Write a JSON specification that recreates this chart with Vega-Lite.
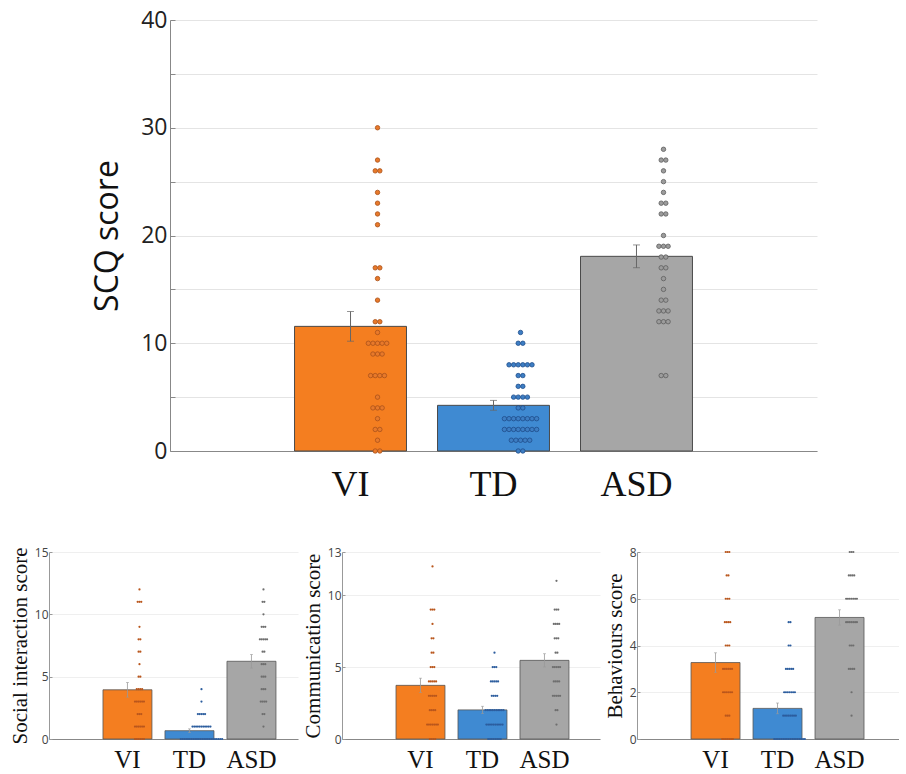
{
  "$schema": "https://vega.github.io/schema/vega-lite/v6.json",
  "background": "white",
  "padding": {"left": 9, "top": 9, "right": 0, "bottom": 0},
  "config": {"view": {"stroke": null}, "font": "Open Sans"},
  "datasets": {
    "scq": [
      {"g":"VI","v":30},{"g":"VI","v":27},{"g":"VI","v":26},{"g":"VI","v":26},{"g":"VI","v":24},{"g":"VI","v":23},{"g":"VI","v":22},{"g":"VI","v":21},{"g":"VI","v":17},{"g":"VI","v":17},{"g":"VI","v":16},{"g":"VI","v":14},{"g":"VI","v":12},{"g":"VI","v":12},{"g":"VI","v":11},{"g":"VI","v":10},{"g":"VI","v":10},{"g":"VI","v":10},{"g":"VI","v":10},{"g":"VI","v":10},{"g":"VI","v":9},{"g":"VI","v":9},{"g":"VI","v":9},{"g":"VI","v":7},{"g":"VI","v":7},{"g":"VI","v":7},{"g":"VI","v":7},{"g":"VI","v":5},{"g":"VI","v":4},{"g":"VI","v":4},{"g":"VI","v":4},{"g":"VI","v":3},{"g":"VI","v":2},{"g":"VI","v":2},{"g":"VI","v":1},{"g":"VI","v":0},{"g":"VI","v":0},
      {"g":"TD","v":11},{"g":"TD","v":10},{"g":"TD","v":10},{"g":"TD","v":8},{"g":"TD","v":8},{"g":"TD","v":8},{"g":"TD","v":8},{"g":"TD","v":8},{"g":"TD","v":8},{"g":"TD","v":7},{"g":"TD","v":7},{"g":"TD","v":6},{"g":"TD","v":6},{"g":"TD","v":5},{"g":"TD","v":5},{"g":"TD","v":5},{"g":"TD","v":5},{"g":"TD","v":4},{"g":"TD","v":4},{"g":"TD","v":3},{"g":"TD","v":3},{"g":"TD","v":3},{"g":"TD","v":3},{"g":"TD","v":3},{"g":"TD","v":3},{"g":"TD","v":3},{"g":"TD","v":3},{"g":"TD","v":2},{"g":"TD","v":2},{"g":"TD","v":2},{"g":"TD","v":2},{"g":"TD","v":2},{"g":"TD","v":2},{"g":"TD","v":2},{"g":"TD","v":2},{"g":"TD","v":1},{"g":"TD","v":1},{"g":"TD","v":1},{"g":"TD","v":1},{"g":"TD","v":1},{"g":"TD","v":0},{"g":"TD","v":0},
      {"g":"ASD","v":28},{"g":"ASD","v":27},{"g":"ASD","v":27},{"g":"ASD","v":26},{"g":"ASD","v":25},{"g":"ASD","v":24},{"g":"ASD","v":23},{"g":"ASD","v":23},{"g":"ASD","v":22},{"g":"ASD","v":22},{"g":"ASD","v":20},{"g":"ASD","v":19},{"g":"ASD","v":19},{"g":"ASD","v":19},{"g":"ASD","v":18},{"g":"ASD","v":18},{"g":"ASD","v":17},{"g":"ASD","v":17},{"g":"ASD","v":16},{"g":"ASD","v":15},{"g":"ASD","v":14},{"g":"ASD","v":14},{"g":"ASD","v":13},{"g":"ASD","v":13},{"g":"ASD","v":13},{"g":"ASD","v":12},{"g":"ASD","v":12},{"g":"ASD","v":12},{"g":"ASD","v":7},{"g":"ASD","v":7}
    ],
    "soc": [
      {"g":"VI","v":12},{"g":"VI","v":11},{"g":"VI","v":11},{"g":"VI","v":11},{"g":"VI","v":9},{"g":"VI","v":8},{"g":"VI","v":8},{"g":"VI","v":7},{"g":"VI","v":7},{"g":"VI","v":6},{"g":"VI","v":5},{"g":"VI","v":5},{"g":"VI","v":4},{"g":"VI","v":4},{"g":"VI","v":4},{"g":"VI","v":4},{"g":"VI","v":3},{"g":"VI","v":3},{"g":"VI","v":3},{"g":"VI","v":3},{"g":"VI","v":3},{"g":"VI","v":3},{"g":"VI","v":2},{"g":"VI","v":2},{"g":"VI","v":2},{"g":"VI","v":1},{"g":"VI","v":1},{"g":"VI","v":1},{"g":"VI","v":1},{"g":"VI","v":1},{"g":"VI","v":1},{"g":"VI","v":0},{"g":"VI","v":0},{"g":"VI","v":0},{"g":"VI","v":0},{"g":"VI","v":0},{"g":"VI","v":0},
      {"g":"TD","v":4},{"g":"TD","v":3},{"g":"TD","v":2},{"g":"TD","v":2},{"g":"TD","v":2},{"g":"TD","v":2},{"g":"TD","v":2},{"g":"TD","v":1},{"g":"TD","v":1},{"g":"TD","v":1},{"g":"TD","v":1},{"g":"TD","v":1},{"g":"TD","v":1},{"g":"TD","v":1},{"g":"TD","v":1},{"g":"TD","v":1},{"g":"TD","v":1},{"g":"TD","v":1},{"g":"TD","v":0},{"g":"TD","v":0},{"g":"TD","v":0},{"g":"TD","v":0},{"g":"TD","v":0},{"g":"TD","v":0},{"g":"TD","v":0},{"g":"TD","v":0},{"g":"TD","v":0},{"g":"TD","v":0},{"g":"TD","v":0},{"g":"TD","v":0},{"g":"TD","v":0},{"g":"TD","v":0},{"g":"TD","v":0},{"g":"TD","v":0},{"g":"TD","v":0},{"g":"TD","v":0},{"g":"TD","v":0},{"g":"TD","v":0},{"g":"TD","v":0},{"g":"TD","v":0},{"g":"TD","v":0},{"g":"TD","v":0},
      {"g":"ASD","v":12},{"g":"ASD","v":11},{"g":"ASD","v":11},{"g":"ASD","v":10},{"g":"ASD","v":9},{"g":"ASD","v":9},{"g":"ASD","v":9},{"g":"ASD","v":8},{"g":"ASD","v":8},{"g":"ASD","v":8},{"g":"ASD","v":8},{"g":"ASD","v":8},{"g":"ASD","v":7},{"g":"ASD","v":7},{"g":"ASD","v":6},{"g":"ASD","v":6},{"g":"ASD","v":6},{"g":"ASD","v":5},{"g":"ASD","v":5},{"g":"ASD","v":5},{"g":"ASD","v":4},{"g":"ASD","v":4},{"g":"ASD","v":4},{"g":"ASD","v":3},{"g":"ASD","v":3},{"g":"ASD","v":3},{"g":"ASD","v":3},{"g":"ASD","v":2},{"g":"ASD","v":2},{"g":"ASD","v":1}
    ],
    "com": [
      {"g":"VI","v":12},{"g":"VI","v":9},{"g":"VI","v":9},{"g":"VI","v":9},{"g":"VI","v":8},{"g":"VI","v":7},{"g":"VI","v":7},{"g":"VI","v":6},{"g":"VI","v":6},{"g":"VI","v":5},{"g":"VI","v":5},{"g":"VI","v":5},{"g":"VI","v":4},{"g":"VI","v":4},{"g":"VI","v":4},{"g":"VI","v":4},{"g":"VI","v":4},{"g":"VI","v":3},{"g":"VI","v":3},{"g":"VI","v":3},{"g":"VI","v":3},{"g":"VI","v":3},{"g":"VI","v":2},{"g":"VI","v":2},{"g":"VI","v":2},{"g":"VI","v":2},{"g":"VI","v":1},{"g":"VI","v":1},{"g":"VI","v":1},{"g":"VI","v":1},{"g":"VI","v":1},{"g":"VI","v":1},{"g":"VI","v":1},{"g":"VI","v":0},{"g":"VI","v":0},{"g":"VI","v":0},{"g":"VI","v":0},
      {"g":"TD","v":6},{"g":"TD","v":5},{"g":"TD","v":5},{"g":"TD","v":5},{"g":"TD","v":4},{"g":"TD","v":4},{"g":"TD","v":4},{"g":"TD","v":4},{"g":"TD","v":4},{"g":"TD","v":3},{"g":"TD","v":3},{"g":"TD","v":3},{"g":"TD","v":3},{"g":"TD","v":2},{"g":"TD","v":2},{"g":"TD","v":2},{"g":"TD","v":2},{"g":"TD","v":2},{"g":"TD","v":2},{"g":"TD","v":2},{"g":"TD","v":2},{"g":"TD","v":2},{"g":"TD","v":2},{"g":"TD","v":2},{"g":"TD","v":1},{"g":"TD","v":1},{"g":"TD","v":1},{"g":"TD","v":1},{"g":"TD","v":1},{"g":"TD","v":1},{"g":"TD","v":1},{"g":"TD","v":1},{"g":"TD","v":1},{"g":"TD","v":1},{"g":"TD","v":0},{"g":"TD","v":0},{"g":"TD","v":0},{"g":"TD","v":0},{"g":"TD","v":0},{"g":"TD","v":0},{"g":"TD","v":0},{"g":"TD","v":0},
      {"g":"ASD","v":11},{"g":"ASD","v":9},{"g":"ASD","v":9},{"g":"ASD","v":9},{"g":"ASD","v":8},{"g":"ASD","v":8},{"g":"ASD","v":8},{"g":"ASD","v":8},{"g":"ASD","v":7},{"g":"ASD","v":7},{"g":"ASD","v":7},{"g":"ASD","v":6},{"g":"ASD","v":6},{"g":"ASD","v":5},{"g":"ASD","v":5},{"g":"ASD","v":5},{"g":"ASD","v":5},{"g":"ASD","v":5},{"g":"ASD","v":4},{"g":"ASD","v":4},{"g":"ASD","v":4},{"g":"ASD","v":4},{"g":"ASD","v":3},{"g":"ASD","v":3},{"g":"ASD","v":3},{"g":"ASD","v":3},{"g":"ASD","v":3},{"g":"ASD","v":2},{"g":"ASD","v":2},{"g":"ASD","v":1}
    ],
    "beh": [
      {"g":"VI","v":8},{"g":"VI","v":8},{"g":"VI","v":8},{"g":"VI","v":7},{"g":"VI","v":7},{"g":"VI","v":6},{"g":"VI","v":6},{"g":"VI","v":6},{"g":"VI","v":5},{"g":"VI","v":5},{"g":"VI","v":5},{"g":"VI","v":5},{"g":"VI","v":4},{"g":"VI","v":4},{"g":"VI","v":4},{"g":"VI","v":3},{"g":"VI","v":3},{"g":"VI","v":3},{"g":"VI","v":3},{"g":"VI","v":3},{"g":"VI","v":3},{"g":"VI","v":2},{"g":"VI","v":2},{"g":"VI","v":2},{"g":"VI","v":2},{"g":"VI","v":2},{"g":"VI","v":2},{"g":"VI","v":1},{"g":"VI","v":1},{"g":"VI","v":1},{"g":"VI","v":0},{"g":"VI","v":0},{"g":"VI","v":0},{"g":"VI","v":0},{"g":"VI","v":0},{"g":"VI","v":0},{"g":"VI","v":0},
      {"g":"TD","v":5},{"g":"TD","v":5},{"g":"TD","v":4},{"g":"TD","v":4},{"g":"TD","v":3},{"g":"TD","v":3},{"g":"TD","v":3},{"g":"TD","v":3},{"g":"TD","v":3},{"g":"TD","v":2},{"g":"TD","v":2},{"g":"TD","v":2},{"g":"TD","v":2},{"g":"TD","v":2},{"g":"TD","v":2},{"g":"TD","v":2},{"g":"TD","v":1},{"g":"TD","v":1},{"g":"TD","v":1},{"g":"TD","v":1},{"g":"TD","v":1},{"g":"TD","v":1},{"g":"TD","v":1},{"g":"TD","v":1},{"g":"TD","v":0},{"g":"TD","v":0},{"g":"TD","v":0},{"g":"TD","v":0},{"g":"TD","v":0},{"g":"TD","v":0},{"g":"TD","v":0},{"g":"TD","v":0},{"g":"TD","v":0},{"g":"TD","v":0},{"g":"TD","v":0},{"g":"TD","v":0},{"g":"TD","v":0},{"g":"TD","v":0},{"g":"TD","v":0},{"g":"TD","v":0},{"g":"TD","v":0},{"g":"TD","v":0},
      {"g":"ASD","v":8},{"g":"ASD","v":8},{"g":"ASD","v":8},{"g":"ASD","v":7},{"g":"ASD","v":7},{"g":"ASD","v":7},{"g":"ASD","v":7},{"g":"ASD","v":6},{"g":"ASD","v":6},{"g":"ASD","v":6},{"g":"ASD","v":6},{"g":"ASD","v":6},{"g":"ASD","v":6},{"g":"ASD","v":6},{"g":"ASD","v":5},{"g":"ASD","v":5},{"g":"ASD","v":5},{"g":"ASD","v":5},{"g":"ASD","v":5},{"g":"ASD","v":5},{"g":"ASD","v":5},{"g":"ASD","v":4},{"g":"ASD","v":4},{"g":"ASD","v":4},{"g":"ASD","v":3},{"g":"ASD","v":3},{"g":"ASD","v":3},{"g":"ASD","v":3},{"g":"ASD","v":2},{"g":"ASD","v":1}
    ]
  },
  "spacing": 44,
  "resolve": {"scale": {"color": "independent", "fill": "independent", "stroke": "independent"}},
  "vconcat": [
    {
      "spacing": 0,
      "hconcat": [
        {"width": 42, "height": 10, "data": {"values": []}, "mark": {"type": "point", "opacity": 0}},
        {
          "width": 647,
          "height": 431,
          "resolve": {"scale": {"xOffset": "independent"}},
          "layer": [
            {
              "data": {"name": "scq"},
              "mark": {"type": "bar", "stroke": "#4a4a4a", "strokeWidth": 1, "width": {"band": 1}},
              "encoding": {
                "x": {"field": "g", "type": "nominal", "sort": ["VI", "TD", "ASD"],
                  "scale": {"domain": ["VI", "TD", "ASD"], "paddingInner": 0.217, "paddingOuter": 0.871, "align": 0.5},
                  "axis": {"title": null, "labelAngle": 0, "labelFont": "Liberation Serif", "labelFontSize": 36, "labelColor": "#111", "ticks": false, "labelPadding": 16, "domainColor": "#888", "domainWidth": 1, "grid": false}},
                "y": {"aggregate": "mean", "field": "v", "type": "quantitative", "title": "SCQ score",
                  "scale": {"domain": [0, 40], "nice": false},
                  "axis": {"values": [0, 5, 10, 15, 20, 25, 30, 35, 40], "labelExpr": "datum.value % 10 === 0 ? datum.label : ''",
                    "labelFont": "Open Sans", "labelFontSize": 23, "labelColor": "#222", "labelPadding": 8,
                    "tickSize": -5, "tickColor": "#888", "domainColor": "#888", "grid": true, "gridColor": "#e4e4e4",
                    "titleFont": "Open Sans", "titleFontSize": 32, "titleFontWeight": "normal", "titleColor": "#111", "titlePadding": 16}},
                "color": {"field": "g", "type": "nominal", "scale": {"domain": ["VI", "TD", "ASD"], "range": ["#F47E20", "#3F8AD2", "#A6A6A6"]}, "legend": null}
              }
            },
            {
              "data": {"name": "scq"},
              "mark": {"type": "errorbar", "extent": "stderr", "color": "#666", "thickness": 1, "ticks": {"size": 7, "color": "#666"}},
              "encoding": {
                "x": {"field": "g", "type": "nominal"},
                "y": {"field": "v", "type": "quantitative", "title": "SCQ score"}
              }
            },
            {
              "data": {"name": "scq"},
              "transform": [
                {"window": [{"op": "row_number", "as": "rn"}, {"op": "count", "as": "n"}], "groupby": ["g", "v"], "frame": [null, null]},
                {"calculate": "datum.rn - (datum.n + 1) / 2", "as": "off"}
              ],
              "mark": {"type": "point", "shape": "circle", "filled": true, "size": 20, "strokeWidth": 0.8, "opacity": 1},
              "encoding": {
                "x": {"field": "g", "type": "nominal"},
                "xOffset": {"field": "off", "type": "quantitative", "scale": {"domain": [-10, 10], "range": [37, 129]}},
                "y": {"field": "v", "type": "quantitative", "title": "SCQ score"},
                "fill": {"field": "g", "type": "nominal", "scale": {"domain": ["VI", "TD", "ASD"], "range": ["#E8792A", "#3D7EC4", "#9C9C9C"]}, "legend": null},
                "stroke": {"field": "g", "type": "nominal", "scale": {"domain": ["VI", "TD", "ASD"], "range": ["#A9521B", "#1F4E8C", "#5E5E5E"]}, "legend": null}
              }
            }
          ]
        }
      ]
    },
    {
      "hconcat": [
        {
          "width": 249,
          "height": 187,
          "resolve": {"scale": {"xOffset": "independent"}},
          "layer": [
            {
              "data": {"name": "soc"},
              "mark": {"type": "bar", "stroke": "#555", "strokeWidth": 0.8, "width": {"band": 1}},
              "encoding": {
                "x": {"field": "g", "type": "nominal", "sort": ["VI", "TD", "ASD"],
                  "scale": {"domain": ["VI", "TD", "ASD"], "paddingInner": 0.21, "paddingOuter": 0.613, "align": 0.71},
                  "axis": {"title": null, "labelAngle": 0, "labelFont": "Liberation Serif", "labelFontSize": 25, "labelColor": "#111", "ticks": false, "labelPadding": 8, "domainColor": "#888", "grid": false}},
                "y": {"aggregate": "mean", "field": "v", "type": "quantitative", "title": "Social interaction score",
                  "scale": {"domain": [0, 15], "nice": false},
                  "axis": {"values": [0, 5, 10, 15], "labelFont": "Open Sans", "labelFontSize": 12, "labelColor": "#444", "labelPadding": 4,
                    "tickSize": -3, "tickColor": "#999", "domainColor": "#999", "grid": true, "gridColor": "#efefef",
                    "titleFont": "Liberation Serif", "titleFontSize": 21, "titleFontWeight": "normal", "titleColor": "#111", "titlePadding": 4}},
                "color": {"field": "g", "type": "nominal", "scale": {"domain": ["VI", "TD", "ASD"], "range": ["#F47E20", "#3F8AD2", "#A6A6A6"]}, "legend": null}
              }
            },
            {
              "data": {"name": "soc"},
              "mark": {"type": "errorbar", "extent": "stderr", "color": "#999", "thickness": 0.8, "ticks": {"size": 3, "color": "#999"}},
              "encoding": {
                "x": {"field": "g", "type": "nominal"},
                "y": {"field": "v", "type": "quantitative", "title": "Social interaction score"}
              }
            },
            {
              "data": {"name": "soc"},
              "transform": [
                {"window": [{"op": "row_number", "as": "rn"}, {"op": "count", "as": "n"}], "groupby": ["g", "v"], "frame": [null, null]},
                {"calculate": "datum.rn - (datum.n + 1) / 2", "as": "off"}
              ],
              "mark": {"type": "point", "shape": "circle", "filled": true, "size": 5, "opacity": 1},
              "encoding": {
                "x": {"field": "g", "type": "nominal"},
                "xOffset": {"field": "off", "type": "quantitative", "scale": {"domain": [-15, 15], "range": [9.5, 63.5]}},
                "y": {"field": "v", "type": "quantitative", "title": "Social interaction score"},
                "fill": {"field": "g", "type": "nominal", "scale": {"domain": ["VI", "TD", "ASD"], "range": ["#B9561C", "#2C5D9E", "#6E6E6E"]}, "legend": null}
              }
            }
          ]
        },
        {
          "width": 258,
          "height": 187,
          "resolve": {"scale": {"xOffset": "independent"}},
          "layer": [
            {
              "data": {"name": "com"},
              "mark": {"type": "bar", "stroke": "#555", "strokeWidth": 0.8, "width": {"band": 1}},
              "encoding": {
                "x": {"field": "g", "type": "nominal", "sort": ["VI", "TD", "ASD"],
                  "scale": {"domain": ["VI", "TD", "ASD"], "paddingInner": 0.21, "paddingOuter": 0.686, "align": 0.635},
                  "axis": {"title": null, "labelAngle": 0, "labelFont": "Liberation Serif", "labelFontSize": 25, "labelColor": "#111", "ticks": false, "labelPadding": 8, "domainColor": "#888", "grid": false}},
                "y": {"aggregate": "mean", "field": "v", "type": "quantitative", "title": "Communication score",
                  "scale": {"domain": [0, 13], "nice": false},
                  "axis": {"values": [0, 5, 10, 13], "labelFont": "Open Sans", "labelFontSize": 12, "labelColor": "#444", "labelPadding": 4,
                    "tickSize": -3, "tickColor": "#999", "domainColor": "#999", "grid": true, "gridColor": "#efefef",
                    "titleFont": "Liberation Serif", "titleFontSize": 21, "titleFontWeight": "normal", "titleColor": "#111", "titlePadding": 4}},
                "color": {"field": "g", "type": "nominal", "scale": {"domain": ["VI", "TD", "ASD"], "range": ["#F47E20", "#3F8AD2", "#A6A6A6"]}, "legend": null}
              }
            },
            {
              "data": {"name": "com"},
              "mark": {"type": "errorbar", "extent": "stderr", "color": "#999", "thickness": 0.8, "ticks": {"size": 3, "color": "#999"}},
              "encoding": {
                "x": {"field": "g", "type": "nominal"},
                "y": {"field": "v", "type": "quantitative", "title": "Communication score"}
              }
            },
            {
              "data": {"name": "com"},
              "transform": [
                {"window": [{"op": "row_number", "as": "rn"}, {"op": "count", "as": "n"}], "groupby": ["g", "v"], "frame": [null, null]},
                {"calculate": "datum.rn - (datum.n + 1) / 2", "as": "off"}
              ],
              "mark": {"type": "point", "shape": "circle", "filled": true, "size": 5, "opacity": 1},
              "encoding": {
                "x": {"field": "g", "type": "nominal"},
                "xOffset": {"field": "off", "type": "quantitative", "scale": {"domain": [-15, 15], "range": [9.5, 63.5]}},
                "y": {"field": "v", "type": "quantitative", "title": "Communication score"},
                "fill": {"field": "g", "type": "nominal", "scale": {"domain": ["VI", "TD", "ASD"], "range": ["#B9561C", "#2C5D9E", "#6E6E6E"]}, "legend": null}
              }
            }
          ]
        },
        {
          "width": 262,
          "height": 187,
          "resolve": {"scale": {"xOffset": "independent"}},
          "layer": [
            {
              "data": {"name": "beh"},
              "mark": {"type": "bar", "stroke": "#555", "strokeWidth": 0.8, "width": {"band": 1}},
              "encoding": {
                "x": {"field": "g", "type": "nominal", "sort": ["VI", "TD", "ASD"],
                  "scale": {"domain": ["VI", "TD", "ASD"], "paddingInner": 0.21, "paddingOuter": 0.718, "align": 0.607},
                  "axis": {"title": null, "labelAngle": 0, "labelFont": "Liberation Serif", "labelFontSize": 25, "labelColor": "#111", "ticks": false, "labelPadding": 8, "domainColor": "#888", "grid": false}},
                "y": {"aggregate": "mean", "field": "v", "type": "quantitative", "title": "Behaviours score",
                  "scale": {"domain": [0, 8], "nice": false},
                  "axis": {"values": [0, 2, 4, 6, 8], "labelFont": "Open Sans", "labelFontSize": 12, "labelColor": "#444", "labelPadding": 4,
                    "tickSize": -3, "tickColor": "#999", "domainColor": "#999", "grid": true, "gridColor": "#efefef",
                    "titleFont": "Liberation Serif", "titleFontSize": 21, "titleFontWeight": "normal", "titleColor": "#111", "titlePadding": 4}},
                "color": {"field": "g", "type": "nominal", "scale": {"domain": ["VI", "TD", "ASD"], "range": ["#F47E20", "#3F8AD2", "#A6A6A6"]}, "legend": null}
              }
            },
            {
              "data": {"name": "beh"},
              "mark": {"type": "errorbar", "extent": "stderr", "color": "#999", "thickness": 0.8, "ticks": {"size": 3, "color": "#999"}},
              "encoding": {
                "x": {"field": "g", "type": "nominal"},
                "y": {"field": "v", "type": "quantitative", "title": "Behaviours score"}
              }
            },
            {
              "data": {"name": "beh"},
              "transform": [
                {"window": [{"op": "row_number", "as": "rn"}, {"op": "count", "as": "n"}], "groupby": ["g", "v"], "frame": [null, null]},
                {"calculate": "datum.rn - (datum.n + 1) / 2", "as": "off"}
              ],
              "mark": {"type": "point", "shape": "circle", "filled": true, "size": 5, "opacity": 1},
              "encoding": {
                "x": {"field": "g", "type": "nominal"},
                "xOffset": {"field": "off", "type": "quantitative", "scale": {"domain": [-15, 15], "range": [9.5, 63.5]}},
                "y": {"field": "v", "type": "quantitative", "title": "Behaviours score"},
                "fill": {"field": "g", "type": "nominal", "scale": {"domain": ["VI", "TD", "ASD"], "range": ["#B9561C", "#2C5D9E", "#6E6E6E"]}, "legend": null}
              }
            }
          ]
        }
      ],
      "spacing": 4,
      "resolve": {"scale": {"color": "independent", "fill": "independent", "stroke": "independent"}}
    }
  ]
}
